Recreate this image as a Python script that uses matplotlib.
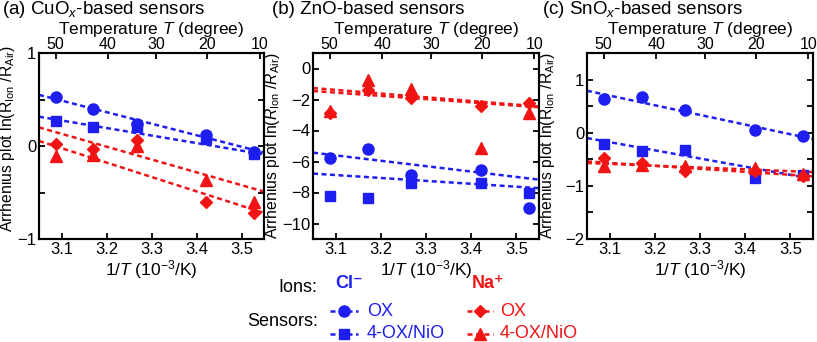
import matplotlib
matplotlib.use("Agg")
import matplotlib.pyplot as plt
from matplotlib.lines import Line2D
import numpy as np

plt.rcParams['font.family'] = ['Liberation Sans', 'DejaVu Sans']
plt.rcParams['mathtext.fontset'] = 'custom'
plt.rcParams['mathtext.rm'] = 'Liberation Sans'
plt.rcParams['mathtext.it'] = 'Liberation Sans:italic'
plt.rcParams['mathtext.bf'] = 'Liberation Sans:bold'

BLUE = '#1E1EF0'
RED = '#F01414'

# ---------------- data ----------------
x_pts = [3.087, 3.171, 3.267, 3.422, 3.527]          # 1/T (10^-3 /K)
x_fit = [3.05, 3.55]                                  # fit lines drawn over the axis range
top_tick_pos = [3.087, 3.203, 3.311, 3.424, 3.54]
top_tick_labels = ['50', '40', '30', '20', '10']

# (a) CuOx
a_cl_ox = [0.524, 0.395, 0.236, 0.118, -0.061]
a_cl_nio = [0.269, 0.208, 0.200, 0.072, -0.086]
a_na_ox = [0.018, -0.035, 0.065, -0.605, -0.724]
a_na_nio = [-0.104, -0.097, 0.000, -0.366, -0.598]
a_fit_cl_ox = [0.55, -0.07]
a_fit_cl_nio = [0.315, -0.09]
a_fit_na_ox = [0.054, -0.72]
a_fit_na_nio = [0.20, -0.49]

# (b) ZnO
b_cl_ox = [-5.76, -5.22, -6.85, -6.57, -9.00]
b_cl_nio = [-8.22, -8.37, -7.39, -7.39, -8.00]
b_na_ox = [-2.85, -1.41, -1.91, -2.39, -2.22]
b_na_nio = [-2.72, -0.76, -1.30, -5.10, -2.87]
b_fit_cl_ox = [-5.43, -7.17]
b_fit_cl_nio = [-6.78, -7.72]
b_fit_na_ox = [-1.45, -2.50]
b_fit_na_nio = [-1.26, -2.45]

# (c) SnOx
c_cl_ox = [0.632, 0.681, 0.419, 0.044, -0.070]
c_cl_nio = [-0.206, -0.337, -0.319, -0.850, -0.790]
c_na_ox = [-0.475, -0.570, -0.725, -0.725, -0.820]
c_na_nio = [-0.630, -0.610, -0.630, -0.660, -0.780]
c_fit_cl_ox = [0.79, -0.12]
c_fit_cl_nio = [-0.10, -0.87]
c_fit_na_ox = [-0.54, -0.82]
c_fit_na_nio = [-0.57, -0.74]

panels = [
    dict(title='(a) CuO$_{x}$-based sensors', ylim=(-1, 1), major=[-1, 0, 1], minor=[-0.5, 0.5],
         ylabel=r'Arrhenius plot ln(R$_{\mathrm{Ion}}$ /R$_{\mathrm{Air}}$)',
         series=[(a_cl_ox, a_fit_cl_ox, BLUE, 'o'), (a_cl_nio, a_fit_cl_nio, BLUE, 's'),
                 (a_na_ox, a_fit_na_ox, RED, 'D'), (a_na_nio, a_fit_na_nio, RED, '^')]),
    dict(title='(b) ZnO-based sensors', ylim=(-11, 1), major=[-10, -8, -6, -4, -2, 0], minor=[],
         ylabel=r'Arrhenius plot ln($R_{\mathrm{Ion}}$ /$R_{\mathrm{Air}}$)',
         series=[(b_cl_ox, b_fit_cl_ox, BLUE, 'o'), (b_cl_nio, b_fit_cl_nio, BLUE, 's'),
                 (b_na_ox, b_fit_na_ox, RED, 'D'), (b_na_nio, b_fit_na_nio, RED, '^')]),
    dict(title='(c) SnO$_{x}$-based sensors', ylim=(-2, 1.5), major=[-2, -1, 0, 1], minor=[-1.5, -0.5, 0.5],
         ylabel=r'Arrhenius plot ln(R$_{\mathrm{Ion}}$ /R$_{\mathrm{Air}}$)',
         series=[(c_cl_ox, c_fit_cl_ox, BLUE, 'o'), (c_cl_nio, c_fit_cl_nio, BLUE, 's'),
                 (c_na_ox, c_fit_na_ox, RED, 'D'), (c_na_nio, c_fit_na_nio, RED, '^')]),
]

W, H = 817, 342
fig = plt.figure(figsize=(W / 100, H / 100), dpi=100)

lefts = [39, 313, 587]
title_x = [2, 272, 542]
ax_w = [225, 226, 226]
top_px, bot_px = 53, 239
ylabel_cx = [17, 282, 557]   # pixel x of the y-label centre
ylabel_cy = [0.54, 0.5, 0.5]

msize = {'o': 8, 's': 7.5, 'D': 6.5, '^': 8}
dash = (2.0, 1.4)

for i, p in enumerate(panels):
    ax = fig.add_axes([lefts[i] / W, 1 - bot_px / H, ax_w[i] / W, (bot_px - top_px) / H])
    for ys, fit, col, mk in p['series']:
        ax.plot(x_fit, fit, color=col, lw=1.8, ls=(0, dash), zorder=2)
    for ys, fit, col, mk in p['series']:
        ax.plot(x_pts, ys, ls='none', marker=mk, color=col, ms=msize[mk], mec=col, zorder=3)
    ax.set_xlim(3.05, 3.55)
    ax.set_ylim(*p['ylim'])
    ax.set_xticks([3.1, 3.2, 3.3, 3.4, 3.5])
    ax.set_xticklabels(['3.1', '3.2', '3.3', '3.4', '3.5'])
    ax.set_yticks(p['major'])
    ax.set_yticks(p['minor'], minor=True)
    ax.tick_params(axis='both', which='both', direction='in', length=4.5, width=1.3,
                   labelsize=12, right=True, top=False, pad=2)
    for s in ax.spines.values():
        s.set_linewidth(1.5)
    ax.set_xlabel(r'1/$T$ (10$^{-3}$/K)', fontsize=12.5, labelpad=1)
    ax.set_ylabel(p['ylabel'], fontsize=11.3)
    ax.yaxis.set_label_coords((ylabel_cx[i] - lefts[i]) / ax_w[i], ylabel_cy[i])

    tax = ax.twiny()
    tax.set_xlim(ax.get_xlim())
    tax.set_xticks(top_tick_pos)
    tax.set_xticklabels(top_tick_labels)
    tax.tick_params(axis='x', direction='in', length=4.5, width=1.3, labelsize=11.5, pad=0.5)
    for s in tax.spines.values():
        s.set_linewidth(1.5)
    tax.set_xlabel(r'Temperature $T$ (degree)', fontsize=12.5, labelpad=2.5)

    fig.text(title_x[i] / W, 1 - 10 / H, p['title'], fontsize=13.5, ha='left', va='center')

# ---------------- legend ----------------
def fx(px):
    return px / W

def fy(py):
    return 1 - py / H

fig.text(fx(317), fy(287), 'Ions:', fontsize=13, ha='right', va='center')
fig.text(fx(335), fy(284), 'Cl⁻', fontsize=13, ha='left', va='center', color=BLUE, fontweight='bold',
         family=['Liberation Sans', 'DejaVu Sans'])
fig.text(fx(472), fy(284), 'Na⁺', fontsize=13, ha='left', va='center', color=RED, fontweight='bold',
         family=['Liberation Sans', 'DejaVu Sans'])
fig.text(fx(318), fy(321), 'Sensors:', fontsize=13, ha='right', va='center')

legend_items = [
    (330, 358, 311, 'o', BLUE, 'OX', 367),
    (330, 358, 334, 's', BLUE, '4-OX/NiO', 367),
    (467, 493, 311, 'D', RED, 'OX', 500),
    (467, 493, 334, '^', RED, '4-OX/NiO', 500),
]
for x0, x1, yy, mk, col, lab, tx in legend_items:
    fig.add_artist(Line2D([fx(x0), fx(x1)], [fy(yy), fy(yy)], transform=fig.transFigure,
                          color=col, lw=1.8, ls=(0, dash)))
    fig.add_artist(Line2D([fx((x0 + x1) / 2)], [fy(yy)], transform=fig.transFigure,
                          color=col, marker=mk, ms=msize[mk], ls='none'))
    fig.text(fx(tx), fy(yy), lab, fontsize=13, ha='left', va='center', color=col)

fig.savefig('out.png', dpi=100)
